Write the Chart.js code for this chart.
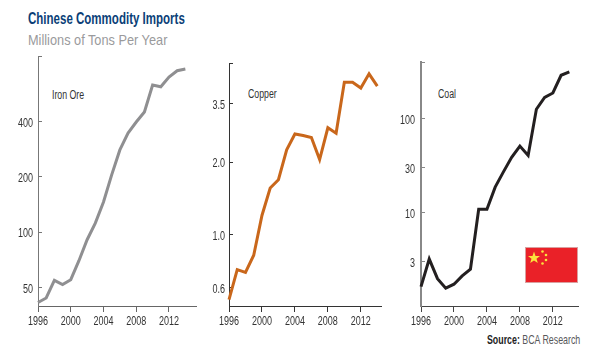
<!DOCTYPE html>
<html lang="en">
<head>
    <meta charset="UTF-8">
    <title>Chinese Commodity Imports</title>
    <script src="https://cdn.jsdelivr.net/npm/chart.js"></script>
    <style>
        html, body {
            margin: 0;
            padding: 0;
            background: #fff;
        }
        body {
            position: relative;
            width: 601px;
            height: 351px;
            overflow: hidden;
            font-family: "Liberation Sans", sans-serif;
        }
        canvas {
            position: absolute;
        }
        .text {
            position: absolute;
            white-space: nowrap;
            line-height: 1;
            transform-origin: left top;
        }
        #title {
            left: 28px;
            top: 11px;
            font-size: 16px;
            font-weight: bold;
            color: #0b3f78;
            transform: scaleX(0.72);
        }
        #subtitle {
            left: 28px;
            top: 32px;
            font-size: 15px;
            color: #9a9a9c;
            transform: scaleX(0.85);
        }
        #source {
            right: 21px;
            top: 333px;
            font-size: 13px;
            color: #58585a;
            transform-origin: right top;
            transform: scaleX(0.68);
        }
        #source b {
            color: #222;
        }
        .name {
            font-size: 12px;
            color: #333;
            transform: scaleX(0.73);
        }
        #flag {
            position: absolute;
            left: 525px;
            top: 247px;
        }
    </style>
</head>
<body>
    <div class="text" id="title">Chinese Commodity Imports</div>
    <div class="text" id="subtitle">Millions of Tons Per Year</div>
    <div class="text name" style="left:52px;top:89px">Iron Ore</div>
    <div class="text name" style="left:248px;top:88px">Copper</div>
    <div class="text name" style="left:438px;top:88px">Coal</div>
    <div class="text" id="source"><b>Source:</b> BCA Research</div>

    <canvas id="ironChart" width="202" height="286" style="left:0;top:50px"></canvas>
    <canvas id="copperChart" width="188" height="279" style="left:199px;top:57px"></canvas>
    <canvas id="coalChart" width="186" height="280" style="left:396px;top:56px"></canvas>

    <svg id="flag" width="53" height="36" style="z-index:2">
        <rect x="0.5" y="0.5" width="52" height="35" fill="#ea2128" stroke="#d9a0a0"/>
        <polygon points="9,4.5 10.5,9 15,9 11.5,11.8 12.8,16 9,13.4 5.2,16 6.5,11.8 3,9 7.5,9" fill="#fbe33c"/>
        <circle cx="17.5" cy="4.5" r="1.3" fill="#fbe33c"/>
        <circle cx="21" cy="8" r="1.3" fill="#fbe33c"/>
        <circle cx="21" cy="13" r="1.3" fill="#fbe33c"/>
        <circle cx="17.5" cy="16.5" r="1.3" fill="#fbe33c"/>
    </svg>

    <script>
        const years = [1996, 1997, 1998, 1999, 2000, 2001, 2002, 2003, 2004, 2005,
                       2006, 2007, 2008, 2009, 2010, 2011, 2012, 2013, 2014];

        const ironValues = [41.5, 43.9, 54.7, 51.9, 55.2, 70, 91, 112, 146, 205,
                            280, 346, 397, 450, 631, 617, 697, 754, 770];
        const copperValues = [0.536, 0.714, 0.696, 0.82, 1.2, 1.56, 1.69, 2.25, 2.62, 2.58,
                              2.53, 2.05, 2.78, 2.64, 4.3, 4.3, 4.07, 4.66, 4.14];
        const coalValues = [1.63, 3.2, 1.98, 1.57, 1.73, 2.12, 2.5, 10.8, 10.8, 18.6,
                            27, 38.5, 50.8, 40.4, 125, 167, 186, 287, 312];

        const ironTicks = [50, 100, 200, 400];
        const copperTicks = [0.6, 1, 2, 3.5];
        const coalTicks = [3, 10, 30, 100];

        const copperLabels = { 0.6: '0.6', 1: '1.0', 2: '2.0', 3.5: '3.5' };

        const axisFont = '12px "Liberation Sans"';
        const squeeze = 0.75;

        // no condensed font here, so tick labels get squeezed by hand
        function narrowText(ctx, text, x, y, align) {
            ctx.save();
            ctx.translate(x, y);
            ctx.scale(squeeze, 1);
            ctx.font = axisFont;
            ctx.fillStyle = '#333';
            ctx.textAlign = align;
            ctx.textBaseline = 'middle';
            ctx.fillText(text, 0, 0);
            ctx.restore();
        }

        const tickLabels = {
            id: 'tickLabels',
            afterDraw(chart, args, pluginOpts) {
                const { ctx, scales } = chart;
                scales.x.ticks.forEach(t => {
                    narrowText(ctx, String(t.value), scales.x.getPixelForValue(t.value), scales.x.top + 16, 'center');
                });
                pluginOpts.values.forEach(v => {
                    const label = pluginOpts.names ? pluginOpts.names[v] : String(v);
                    narrowText(ctx, label, scales.y.left + scales.y.width - pluginOpts.gap, scales.y.getPixelForValue(v) + 2, 'right');
                });
            }
        };

        function makeChart(id, values, tickValues, opts) {
            const ctx = document.getElementById(id).getContext('2d');
            return new Chart(ctx, {
                type: 'line',
                data: {
                    labels: years,
                    datasets: [{
                        data: values,
                        borderColor: opts.color,
                        borderWidth: 3,
                        pointRadius: 0,
                        tension: 0,
                        clip: false
                    }]
                },
                plugins: [tickLabels],
                options: {
                    responsive: false,
                    animation: false,
                    layout: { padding: { top: 6, right: opts.padRight } },
                    plugins: {
                        legend: { display: false },
                        tooltip: { enabled: false },
                        tickLabels: { values: tickValues, names: opts.labels, gap: opts.gap }
                    },
                    scales: {
                        x: {
                            type: 'linear',
                            min: 1996,
                            max: opts.xMax,
                            grid: {
                                drawOnChartArea: false,
                                tickLength: 6,
                                tickColor: opts.xAxisColor
                            },
                            border: { color: opts.xAxisColor },
                            ticks: {
                                display: false,
                                stepSize: 4,
                                includeBounds: false
                            },
                            afterFit: scale => { scale.height = 30; }
                        },
                        y: {
                            type: 'logarithmic',
                            min: opts.yMin,
                            max: opts.yMax,
                            grid: {
                                drawOnChartArea: false,
                                tickLength: -4,
                                tickColor: opts.yAxisColor
                            },
                            border: { color: opts.yAxisColor, width: opts.yAxisWidth },
                            afterBuildTicks: scale => {
                                scale.ticks = tickValues.concat([opts.yMax]).map(v => ({ value: v }));
                            },
                            ticks: { display: false },
                            afterFit: scale => { scale.width = opts.gutter; }
                        }
                    }
                }
            });
        }

        makeChart('ironChart', ironValues, ironTicks, {
            color: '#8f8f91', xAxisColor: '#666', yAxisColor: '#777', yAxisWidth: 1,
            gutter: 38, padRight: 6, gap: 5, xMax: 2015.3, yMin: 39.7, yMax: 907
        });
        makeChart('copperChart', copperValues, copperTicks, {
            color: '#c9671b', xAxisColor: '#333', yAxisColor: '#333', yAxisWidth: 1,
            gutter: 30, padRight: 6, gap: 4, xMax: 2014.45, yMin: 0.504, yMax: 5.17, labels: copperLabels
        });
        makeChart('coalChart', coalValues, coalTicks, {
            color: '#231f20', xAxisColor: '#444', yAxisColor: '#888', yAxisWidth: 2,
            gutter: 25, padRight: 4, gap: 6, xMax: 2015.05, yMin: 1.015, yMax: 397
        });
    </script>
</body>
</html>
